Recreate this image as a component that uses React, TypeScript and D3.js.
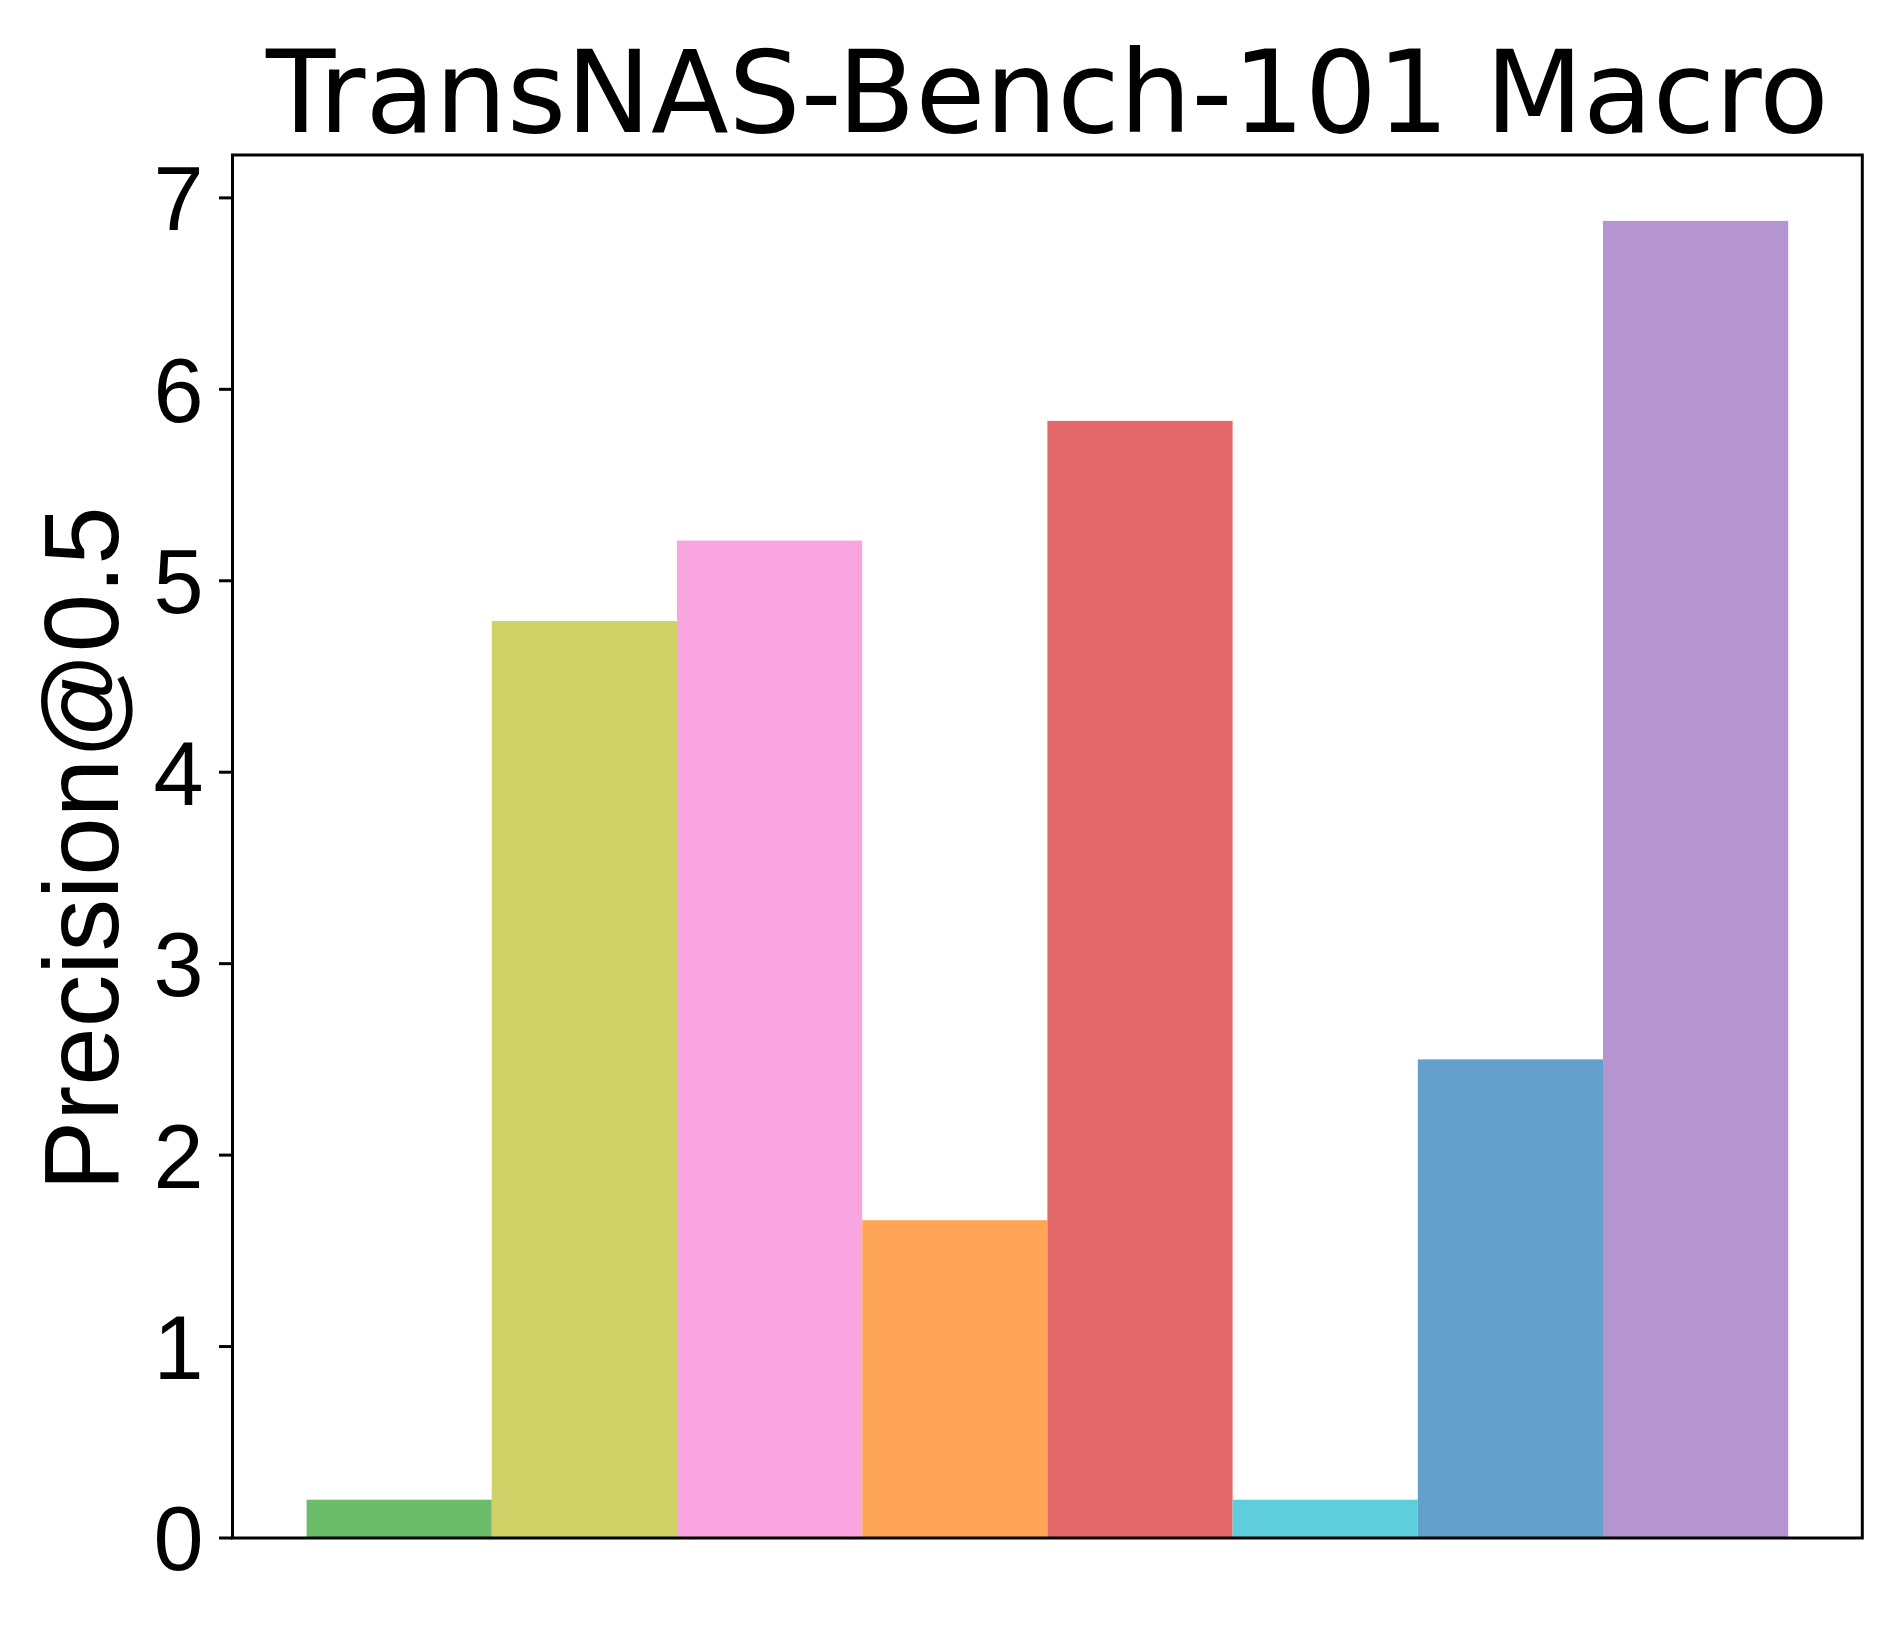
import React from "react";
import * as d3 from "d3";

const categories = ["m1", "m2", "m3", "m4", "m5", "m6", "m7", "m8"];
const values = [0.2, 4.79, 5.21, 1.66, 5.835, 0.2, 2.5, 6.88];
const colors = ["#6BBD6B", "#CFD267", "#F9A6E0", "#FFA558", "#E26869", "#5FCEDC", "#63A0CB", "#B495D0"];
const yTicks = [0, 1, 2, 3, 4, 5, 6, 7];
const title = "TransNAS-Bench-101 Macro";
const yLabel = "Precision@0.5";

const W = 1903;
const H = 1631;
const M = { left: 232.5, right: 1862.3, top: 155, bottom: 1538 };

export default function App() {
  const n = categories.length;
  const x = d3.scaleLinear().domain([-0.5 - 0.05 * n, n - 0.5 + 0.05 * n]).range([M.left, M.right]);
  const yMax = (d3.max(values) as number) * 1.05;
  const y = d3.scaleLinear().domain([0, yMax]).range([M.bottom, M.top]);
  const sans = "'Liberation Sans', Arial, sans-serif";
  return (
    <svg width={W} height={H} style={{ position: "absolute", left: 0, top: 0, background: "#fff" }}>
      <rect x={0} y={0} width={W} height={H} fill="#fff" />
      {values.map((v, i) => (
        <rect
          key={categories[i]}
          x={x(i - 0.5)}
          y={y(v)}
          width={x(i + 0.5) - x(i - 0.5)}
          height={y(0) - y(v)}
          fill={colors[i]}
        />
      ))}
      <rect
        x={M.left}
        y={M.top}
        width={M.right - M.left}
        height={M.bottom - M.top}
        fill="none"
        stroke="#000"
        strokeWidth={3}
      />
      {yTicks.map((t) => (
        <g key={t}>
          <line x1={M.left - 13.5} x2={M.left} y1={y(t)} y2={y(t)} stroke="#000" strokeWidth={3} />
          <text
            x={M.left - 29}
            y={y(t)}
            dy="0.36em"
            textAnchor="end"
            fontFamily={sans}
            fontSize={90}
            fill="#000"
          >
            {t}
          </text>
        </g>
      ))}
      <text
        transform={`translate(118, ${(M.top + M.bottom) / 2 + 2}) rotate(-90)`}
        textAnchor="middle"
        fontFamily={sans}
        fontSize={105}
        fill="#000"
      >
        {yLabel}
      </text>
      <text
        x={(M.left + M.right) / 2}
        y={131.5}
        textAnchor="middle"
        fontFamily="'DejaVu Sans', sans-serif"
        fontSize={113.5}
        fill="#000"
      >
        {title}
      </text>
    </svg>
  );
}
